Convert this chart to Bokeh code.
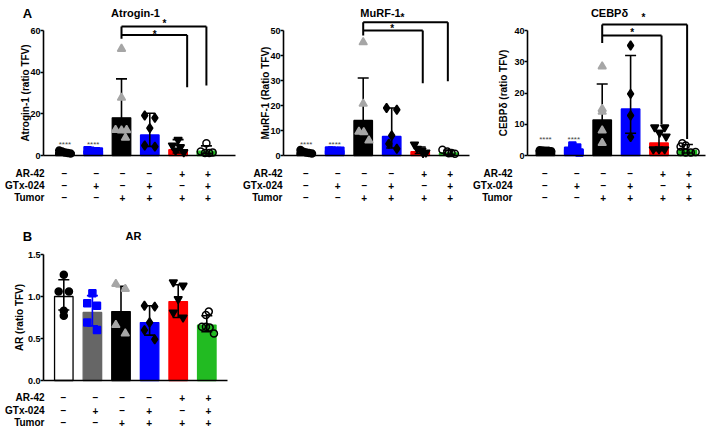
import math
from bokeh.plotting import figure
from bokeh.models import ColumnDataSource, LinearAxis, FixedTicker, Range1d, PrintfTickFormatter
from bokeh.layouts import row, column
from bokeh.core.properties import value
from bokeh.embed import file_html
from bokeh.resources import INLINE

FONT = "Liberation Sans"

# ---------------- data ----------------
groups = [1, 2, 3, 4, 5, 6]
row_names = ["AR-42", "GTx-024", "Tumor"]
ar42_signs = ["–", "–", "–", "–", "+", "+"]
gtx_signs = ["–", "+", "–", "+", "–", "+"]
tumor_signs = ["–", "–", "+", "+", "+", "+"]

# Atrogin-1
atro_mean = [1.5, 2.2, 18.1, 9.9, 2.8, 2.1]
atro_hi = [2.2, 2.4, 36.8, 20.3, 7.6, 4.6]
atro_lo = [1.0, 2.0, 5.0, 4.4, 1.2, 1.0]
atro_pts = [[2.4, 1.9, 1.5, 1.2, 1.0], [2.5, 2.3, 2.1, 2.0, 1.9],
            [51.2, 27.7, 12.3, 12.0, 12.2, 8.5], [19.2, 18.1, 13.1, 4.8, 4.3],
            [7.5, 4.8, 4.0, 2.4, 1.6], [5.9, 1.9, 1.2, 1.2, 1.5]]
atro_dx = [[-0.2, -0.1, 0, 0.1, 0.2], [-0.2, -0.1, 0, 0.1, 0.2],
           [0, 0, -0.21, 0, 0.18, 0.14], [-0.18, 0.18, 0, -0.18, 0.18],
           [0, -0.2, 0.08, -0.09, 0.2], [0, -0.2, -0.05, 0.1, 0.22]]

# MuRF-1
murf_mean = [1.2, 1.9, 14.0, 7.6, 1.5, 1.0]
murf_hi = [1.8, 2.1, 31.0, 19.0, 3.4, 2.0]
murf_lo = [0.8, 1.7, 3.0, 3.0, 0.8, 0.5]
murf_pts = [[2.2, 1.5, 1.2, 1.0, 0.8], [2.0, 2.0, 1.8, 1.8, 1.9],
            [45.3, 20.7, 9.5, 9.3, 6.0], [19.0, 18.3, 8.0, 4.7, 2.7],
            [4.4, 2.7, 2.0, 1.2, 1.0], [2.3, 1.6, 1.0, 0.7, 0.9]]
murf_dx = [[-0.2, -0.1, 0, 0.1, 0.2], [-0.2, -0.1, 0, 0.1, 0.2],
           [0, 0, -0.15, 0.02, 0.2], [-0.18, 0.18, 0, -0.1, 0.18],
           [-0.2, -0.1, 0.06, 0.2, 0.1], [-0.22, -0.05, 0.1, 0.22, 0]]

# CEBPdelta
cebp_mean = [1.6, 1.9, 11.4, 14.9, 4.0, 1.6]
cebp_hi = [1.8, 3.0, 22.9, 32.0, 8.0, 3.5]
cebp_lo = [1.4, 1.0, 4.0, 7.1, 1.5, 0.8]
cebp_pts = [[1.7, 1.6, 1.5, 1.5, 1.4], [3.2, 2.6, 1.5, 1.2, 1.0],
            [28.5, 14.9, 14.0, 8.0, 4.0], [35.2, 19.7, 12.8, 5.9],
            [9.0, 9.0, 7.3, 6.1, 2.0, 2.0, 2.0], [3.9, 3.2, 2.9, 1.1, 1.0, 1.0, 1.1]]
cebp_dx = [[-0.2, -0.1, 0, 0.1, 0.2], [-0.05, 0.12, -0.2, 0.05, 0.2],
           [0, 0, 0, 0, 0], [0, 0, 0, 0],
           [-0.15, 0.2, 0.02, 0.25, -0.2, 0, 0.2], [-0.18, -0.06, -0.24, -0.24, -0.06, 0.12, 0.29]]

# AR
ar_mean = [1.0, 0.81, 0.82, 0.69, 0.94, 0.66]
ar_hi = [1.20, 1.01, 1.12, 0.89, 1.14, 0.77]
ar_lo = [0.84, 0.65, 0.55, 0.54, 0.75, 0.58]
ar_pts = [[1.26, 1.06, 1.06, 0.83, 0.77], [1.04, 0.92, 0.89, 0.69, 0.60],
          [1.15, 1.09, 0.66, 0.56], [0.89, 0.88, 0.69, 0.60, 0.49],
          [1.17, 1.13, 0.97, 0.81, 0.75], [0.82, 0.78, 0.64, 0.64, 0.63, 0.56]]
ar_dx = [[0, -0.18, 0.18, 0, 0], [0, -0.18, 0.16, -0.18, 0.16],
         [-0.18, 0.15, -0.18, 0.15], [-0.18, 0.18, 0, -0.18, 0.18],
         [-0.17, 0.17, 0, -0.17, 0.17], [0.07, -0.03, -0.17, -0.03, 0.1, 0.25]]

# significance brackets
atro_br = dict(y=[61.9, 57.9], xend=[6.0, 5.32], drop=[33.6, 32.8], left_bottom=56, star_x=[4.52, 4.17], star_y=[64.3, 59.2], sig4=6.2)
murf_br = dict(y=[53.3, 50.0], xend=[5.97, 5.09], drop=[29.7, 28.9], left_bottom=48, star_x=[4.38, 4.02], star_y=[56.0, 51.6], sig4=5.3)
cebp_br = dict(y=[41.9, 38.4], xend=[5.99, 5.09], drop=[5.3, 10.1], left_bottom=36, star_x=[4.45, 4.06], star_y=[44.8, 40.0], sig4=5.9)

BLUE = "#0000ff"
RED = "#ff0000"
GREEN = "#22bb22"
LGRAY = "#a6a6a6"

A_bar_fill = ["black", BLUE, "black", BLUE, RED, GREEN]
A_bar_line = ["black", BLUE, "black", BLUE, RED, GREEN]
A_err = ["black"] * 6
B_bar_fill = ["white", "#666666", "black", BLUE, RED, GREEN]
B_bar_line = ["black", "#666666", "black", BLUE, RED, GREEN]
B_err = ["black", BLUE, "black", "black", "black", "black"]

markers = ["circle", "square", "triangle", "diamond", "inverted_triangle", "circle"]
msizes = [7, 7, 8, 9, 8, 7]
A_mfill = ["black", BLUE, LGRAY, "black", "black", "black"]
A_mline = ["black", BLUE, LGRAY, "black", "black", "black"]
B_mfill = ["black", BLUE, LGRAY, "black", "black", "black"]
B_mline = ["black", BLUE, LGRAY, "black", "black", "black"]
mfill_alpha = [1, 1, 1, 1, 1, 0]

tbl_dx_px = [-0.5, 3, 1, -0.5, 4, 1.5]


def make_panel(g, mean, hi, lo, pts, dx, bar_fill, bar_line, err_col, mfill, mline,
               yticks, ylabel, ylabel_px, title, title_px, letter, letter_px, br, rows_px,
               lab_right_px, fmt=None):
    sx, sy = g["sx"], g["sy"]

    def px2x(px):
        return 1 + (px - g["bar1"]) / sx

    def px2y(py):
        return (g["y0"] - py) / sy

    p = figure(width=g["w"], height=g["h"],
               x_range=Range1d(px2x(g["left"]), px2x(g["left"] + g["w"])),
               y_range=Range1d(px2y(g["top"] + g["h"]), px2y(g["top"])),
               x_axis_type=None, y_axis_type=None, toolbar_location=None,
               output_backend="svg", min_border=0, outline_line_color=None)

    yax = LinearAxis(fixed_location=px2x(g["axis"]), bounds=(0, yticks[-1]),
                     ticker=FixedTicker(ticks=yticks))
    yax.axis_line_width = 1.6
    yax.major_tick_line_width = 1.6
    yax.major_tick_out = 3
    yax.major_tick_in = 0
    yax.minor_tick_line_color = None
    yax.major_label_standoff = 0
    yax.major_label_text_font = FONT
    yax.major_label_text_font_style = "bold"
    yax.major_label_text_font_size = "9px"
    yax.major_label_text_color = "black"
    if fmt is not None:
        yax.formatter = fmt
    p.add_layout(yax, "left")

    xax = LinearAxis(fixed_location=0, bounds=(px2x(g["axis"]), px2x(g["xend"])),
                     ticker=FixedTicker(ticks=[]))
    xax.axis_line_width = 1.6
    xax.major_tick_line_color = None
    xax.minor_tick_line_color = None
    xax.major_label_text_font_size = "0px"
    p.add_layout(xax, "below")

    # y axis title
    p.text(x=[px2x(ylabel_px)], y=[yticks[-1] / 2], text=[ylabel], angle=math.pi / 2,
           text_font=value(FONT), text_font_style="bold", text_font_size="10px",
           text_color="black", text_align="center", text_baseline="middle")

    bw = 18.5 / sx
    cw = 5.5 / sx
    bsrc = ColumnDataSource(dict(x=groups, top=mean, hi=hi, lo=lo, fill=bar_fill, line=bar_line,
                                 ec=err_col, l=[x - cw for x in groups], r=[x + cw for x in groups]))
    p.vbar(x="x", top="top", bottom=0, width=bw, fill_color="fill", line_color="line",
           line_width=1.3, source=bsrc)
    p.segment(x0="x", y0="lo", x1="x", y1="hi", line_color="ec", line_width=1.6, source=bsrc)
    p.segment(x0="l", y0="hi", x1="r", y1="hi", line_color="ec", line_width=1.6, source=bsrc)
    p.segment(x0="l", y0="lo", x1="r", y1="lo", line_color="ec", line_width=1.6, source=bsrc)

    px_, py_, pm, ps, pf, pl, pa = [], [], [], [], [], [], []
    for i, (vals, offs) in enumerate(zip(pts, dx)):
        for v, o in zip(vals, offs):
            px_.append(groups[i] + o)
            py_.append(v)
            pm.append(markers[i])
            ps.append(msizes[i])
            pf.append(mfill[i])
            pl.append(mline[i])
            pa.append(mfill_alpha[i])
    psrc = ColumnDataSource(dict(x=px_, y=py_, m=pm, s=ps, f=pf, l=pl, a=pa))
    p.scatter(x="x", y="y", marker="m", size="s", fill_color="f", line_color="l",
              fill_alpha="a", line_width=1.5, source=psrc)

    if br is not None:
        segx0, segy0, segx1, segy1 = [], [], [], []
        for yb, xe, dr in zip(br["y"], br["xend"], br["drop"]):
            segx0 += [3, xe]
            segy0 += [yb, yb]
            segx1 += [xe, xe]
            segy1 += [yb, dr]
        segx0.append(3); segy0.append(max(br["y"])); segx1.append(3); segy1.append(br["left_bottom"])
        p.segment(x0=segx0, y0=segy0, x1=segx1, y1=segy1, line_color="black", line_width=2)
        p.text(x=br["star_x"], y=br["star_y"], text=["*", "*"], text_font=value(FONT),
               text_font_style="bold", text_font_size="10px", text_color="black",
               text_align="center", text_baseline="middle", y_offset=2)
        p.text(x=[1, 2], y=[br["sig4"]] * 2, text=["****", "****"], text_font=value(FONT),
               text_font_size="8px", text_color="#444444", text_align="center",
               text_baseline="middle", y_offset=2)

    p.text(x=[px2x(title_px)], y=[px2y(g["title_y"])], text=[title], text_font=value(FONT),
           text_font_style="bold", text_font_size="11px", text_color="black",
           text_align="center", text_baseline="middle")
    if letter:
        p.text(x=[px2x(letter_px)], y=[px2y(g["title_y"] + 1)], text=[letter], text_font=value(FONT),
               text_font_style="bold", text_font_size="13px", text_color="black",
               text_align="center", text_baseline="middle")

    tx, ty, tt = [], [], []
    for r, signs in enumerate([ar42_signs, gtx_signs, tumor_signs]):
        for i, s in enumerate(signs):
            tx.append(groups[i] + tbl_dx_px[i] / sx)
            ty.append(px2y(rows_px[r]))
            tt.append(s)
    p.text(x=tx, y=ty, text=tt, text_font=value(FONT), text_font_style="bold",
           text_font_size="10px", text_color="black", text_align="center", text_baseline="middle")
    p.text(x=[px2x(lab_right_px)] * 3, y=[px2y(v) for v in rows_px], text=row_names,
           text_font=value(FONT), text_font_style="bold", text_font_size="10px",
           text_color="black", text_align="right", text_baseline="middle")
    return p


gA1 = dict(left=0, top=0, w=240, h=206, axis=43, y0=155, sy=125 / 60, bar1=64.4, sx=28.3, xend=235, title_y=12)
gA2 = dict(left=240, top=0, w=230, h=206, axis=283, y0=155, sy=125 / 50, bar1=305.7, sx=28.5, xend=469, title_y=12)
gA3 = dict(left=470, top=0, w=239, h=206, axis=527, y0=155, sy=125 / 40, bar1=544.9, sx=28.4, xend=705, title_y=12)
gB = dict(left=0, top=206, w=240, h=223, axis=43, y0=380, sy=126 / 1.5, bar1=63.3, sx=28.6, xend=227, title_y=235)

rowsA = [173, 185, 197]
rowsB = [397, 410, 422]

p1 = make_panel(gA1, atro_mean, atro_hi, atro_lo, atro_pts, atro_dx, A_bar_fill, A_bar_line, A_err,
                A_mfill, A_mline, [0, 20, 40, 60], "Atrogin-1 (ratio TFV)", 25, "Atrogin-1", 135, "A", 27,
                atro_br, rowsA, 44)
p2 = make_panel(gA2, murf_mean, murf_hi, murf_lo, murf_pts, murf_dx, A_bar_fill, A_bar_line, A_err,
                A_mfill, A_mline, [0, 10, 20, 30, 40, 50], "MuRF-1 (Ratio TFV)", 265, "MuRF-1", 380, None, 0,
                murf_br, rowsA, 282)
p3 = make_panel(gA3, cebp_mean, cebp_hi, cebp_lo, cebp_pts, cebp_dx, A_bar_fill, A_bar_line, A_err,
                A_mfill, A_mline, [0, 10, 20, 30, 40], "CEBPδ (ratio TFV)", 503, "CEBPδ", 609, None, 0,
                cebp_br, rowsA, 512)
p4 = make_panel(gB, ar_mean, ar_hi, ar_lo, ar_pts, ar_dx, B_bar_fill, B_bar_line, B_err,
                B_mfill, B_mline, [0, 0.5, 1.0, 1.5], "AR (ratio TFV)", 19, "AR", 133, "B", 27,
                None, rowsB, 44, fmt=PrintfTickFormatter(format="%.1f"))

layout = column(row(p1, p2, p3), p4)
open("out.html", "w").write(file_html(layout, INLINE))
